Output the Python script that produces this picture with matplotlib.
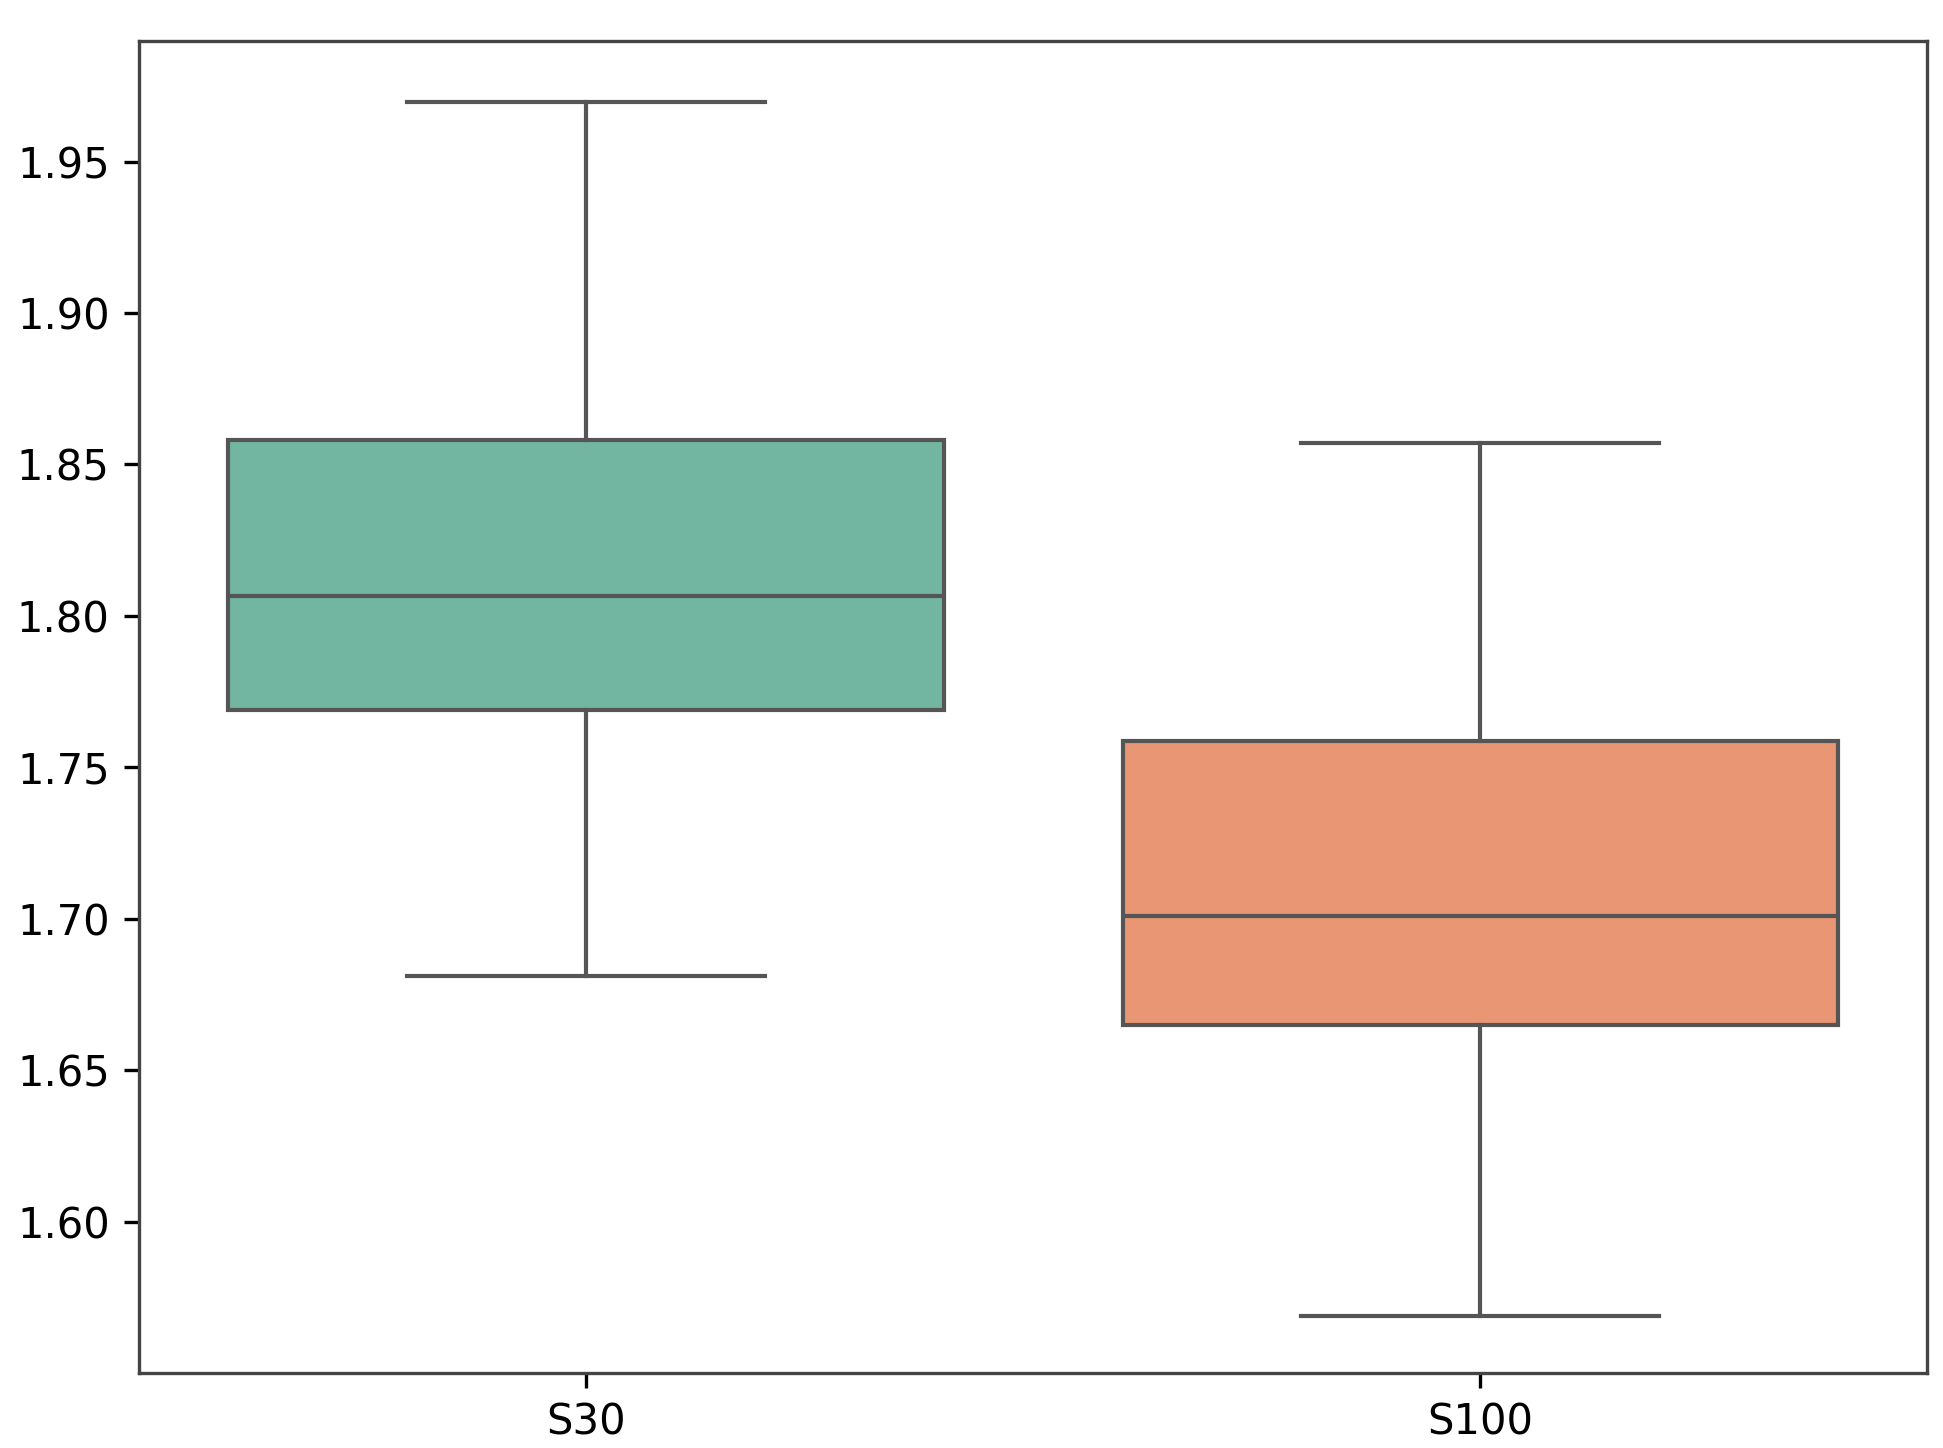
import matplotlib
matplotlib.use("Agg")
import matplotlib.pyplot as plt
import matplotlib.colors as mcolors
import colorsys

categories = ["S30", "S100"]
whisker_low = [1.681, 1.5688]
q1 = [1.769, 1.665]
median = [1.8065, 1.701]
q3 = [1.858, 1.7587]
whisker_high = [1.9696, 1.857]
base_colors = ["#66c2a5", "#fc8d62"]


def desaturate(c, s=0.75):
    r, g, b = mcolors.to_rgb(c)
    h, l, sat = colorsys.rgb_to_hls(r, g, b)
    return colorsys.hls_to_rgb(h, l, sat * s)


fig = plt.figure(figsize=(1943 / 300, 1448 / 300), dpi=300)
ax = fig.add_axes([0.0715, 0.052, 0.9205, 0.9195])

stats = []
for i, c in enumerate(categories):
    stats.append(dict(label=c, whislo=whisker_low[i], q1=q1[i], med=median[i],
                      q3=q3[i], whishi=whisker_high[i], fliers=[]))

line_col = "#555555"
bp = ax.bxp(stats, positions=range(len(categories)), widths=0.8, patch_artist=True,
            showfliers=False,
            boxprops=dict(edgecolor=line_col, linewidth=1.0),
            medianprops=dict(color=line_col, linewidth=1.0),
            whiskerprops=dict(color=line_col, linewidth=1.0),
            capprops=dict(color=line_col, linewidth=1.0),
            capwidths=0.4)
for patch, col in zip(bp["boxes"], base_colors):
    patch.set_facecolor(desaturate(col))

ax.set_xlim(-0.5, 1.5)
ax.set_ylim(1.5501, 1.9897)
ax.set_yticks([1.60, 1.65, 1.70, 1.75, 1.80, 1.85, 1.90, 1.95])
ax.set_yticklabels(["1.60", "1.65", "1.70", "1.75", "1.80", "1.85", "1.90", "1.95"])
ax.set_xticks(range(len(categories)))
ax.set_xticklabels(categories)
for sp in ax.spines.values():
    sp.set_color("#444444")

fig.savefig("out.png", dpi=300)
